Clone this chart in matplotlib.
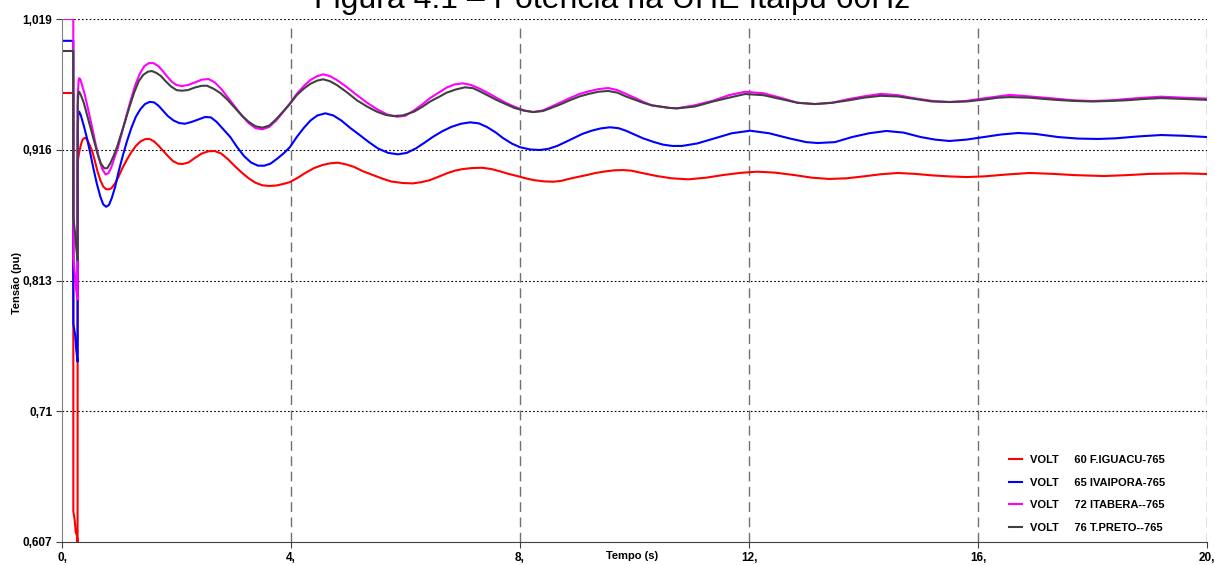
import matplotlib
matplotlib.use('Agg')
import matplotlib.pyplot as plt

plt.rcParams['font.family'] = ['Liberation Sans', 'DejaVu Sans']

# tempo (s) / tensao (pu)
t_iguacu = [0.0, 0.197, 0.198, 0.22, 0.24, 0.26, 0.272, 0.274, 0.30, 0.33, 0.36, 0.40, 0.44, 0.48,
            0.52, 0.57, 0.62, 0.67, 0.72, 0.77, 0.81, 0.86, 0.92, 0.99, 1.06, 1.13, 1.21, 1.29,
            1.37, 1.45, 1.53, 1.61, 1.69, 1.77, 1.85, 1.94, 2.03, 2.11, 2.21, 2.32, 2.44, 2.56,
            2.67, 2.78, 2.90, 3.02, 3.14, 3.26, 3.38, 3.50, 3.62, 3.74, 3.86, 3.98, 4.12, 4.26,
            4.40, 4.55, 4.68, 4.82, 4.96, 5.10, 5.26, 5.43, 5.60, 5.75, 5.95, 6.13, 6.28, 6.42,
            6.58, 6.72, 6.86, 7.00, 7.17, 7.34, 7.50, 7.65, 7.80, 7.95, 8.10, 8.25, 8.42, 8.58,
            8.72, 8.85, 9.00, 9.17, 9.33, 9.50, 9.65, 9.80, 9.95, 10.1, 10.25, 10.39, 10.65,
            10.94, 11.25, 11.55, 11.85, 12.14, 12.45, 12.8, 13.1, 13.4, 13.7, 14.0, 14.3, 14.6,
            14.9, 15.2, 15.5, 15.8, 16.1, 16.5, 16.9, 17.3, 17.7, 18.2, 18.6, 19.0, 19.6, 20.0]
v_iguacu = [0.9607, 0.9607, 0.631, 0.625, 0.615, 0.612, 0.607, 0.9066, 0.914, 0.920, 0.924, 0.9255,
            0.924, 0.920, 0.9158, 0.908, 0.899, 0.892, 0.887, 0.885, 0.8848, 0.8855, 0.889, 0.895,
            0.902, 0.9079, 0.914, 0.919, 0.9225, 0.9243, 0.9245, 0.9225, 0.919, 0.915, 0.911,
            0.907, 0.905, 0.9048, 0.906, 0.9095, 0.913, 0.9148, 0.915, 0.913, 0.9085, 0.903,
            0.898, 0.8935, 0.890, 0.888, 0.8875, 0.8878, 0.889, 0.8905, 0.894, 0.898, 0.9015,
            0.904, 0.9053, 0.9058, 0.9045, 0.9025, 0.899, 0.8961, 0.8932, 0.891, 0.8898, 0.8895,
            0.8905, 0.892, 0.8948, 0.8974, 0.8995, 0.9008, 0.9016, 0.9018, 0.9008, 0.899, 0.897,
            0.8953, 0.8935, 0.892, 0.8911, 0.8908, 0.8915, 0.893, 0.8945, 0.8961, 0.8978,
            0.899, 0.8998, 0.900, 0.8995, 0.898, 0.8966, 0.8953, 0.8935, 0.8927, 0.894, 0.8961,
            0.8978, 0.8987, 0.898, 0.896, 0.894, 0.893, 0.8935, 0.895, 0.8967, 0.8977, 0.897,
            0.8958, 0.895, 0.8945, 0.895, 0.8965, 0.8977, 0.897, 0.896, 0.8953, 0.896, 0.897,
            0.8974, 0.8969]

t_ivaipora = [0.0, 0.197, 0.198, 0.23, 0.25, 0.272, 0.274, 0.285, 0.30, 0.33, 0.38, 0.43, 0.49,
              0.55, 0.61, 0.67, 0.72, 0.77, 0.82, 0.87, 0.93, 0.99, 1.06, 1.13, 1.21, 1.29, 1.37,
              1.45, 1.53, 1.61, 1.69, 1.77, 1.85, 1.95, 2.05, 2.15, 2.27, 2.39, 2.50, 2.60, 2.70,
              2.82, 2.94, 3.06, 3.18, 3.30, 3.42, 3.53, 3.64, 3.76, 3.88, 3.98, 4.10, 4.22, 4.34,
              4.46, 4.60, 4.74, 4.88, 5.04, 5.20, 5.36, 5.52, 5.70, 5.87, 6.02, 6.18, 6.33, 6.48,
              6.64, 6.80, 6.97, 7.13, 7.28, 7.42, 7.57, 7.71, 7.86, 8.00, 8.18, 8.35, 8.50, 8.65,
              8.79, 8.93, 9.09, 9.25, 9.41, 9.57, 9.72, 9.85, 10.0, 10.15, 10.33, 10.50, 10.66,
              10.83, 11.10, 11.40, 11.70, 12.02, 12.35, 12.7, 13.0, 13.2, 13.5, 13.8, 14.1, 14.4,
              14.7, 15.0, 15.25, 15.5, 15.8, 16.1, 16.4, 16.7, 17.0, 17.4, 17.75, 18.1, 18.4,
              18.8, 19.2, 19.6, 20.0]
v_ivaipora = [1.0018, 1.0018, 0.779, 0.770, 0.758, 0.749, 0.930, 0.9452, 0.946, 0.943, 0.935,
              0.9263, 0.914, 0.901, 0.889, 0.879, 0.873, 0.8711, 0.8725, 0.878, 0.887, 0.899,
              0.911, 0.922, 0.933, 0.942, 0.948, 0.952, 0.9537, 0.9533, 0.9505, 0.9465, 0.9425,
              0.939, 0.937, 0.9365, 0.938, 0.940, 0.9418, 0.9415, 0.938, 0.932, 0.926, 0.918,
              0.911, 0.906, 0.9035, 0.9034, 0.905, 0.909, 0.9135, 0.918, 0.926, 0.933, 0.939,
              0.943, 0.9447, 0.943, 0.939, 0.933, 0.9276, 0.922, 0.917, 0.9135, 0.9124, 0.9135,
              0.917, 0.9215, 0.9262, 0.9305, 0.934, 0.9365, 0.9376, 0.9368, 0.934, 0.9298,
              0.925, 0.9208, 0.918, 0.9162, 0.9158, 0.9168, 0.919, 0.922, 0.925, 0.9285, 0.931,
              0.9328, 0.9337, 0.933, 0.931, 0.928, 0.925, 0.9222, 0.920, 0.919, 0.919, 0.921,
              0.925, 0.929, 0.931, 0.929, 0.925, 0.922, 0.9213, 0.922, 0.926, 0.929, 0.9308,
              0.9295, 0.926, 0.924, 0.9229, 0.924, 0.926, 0.928, 0.9292, 0.9285, 0.926, 0.9248,
              0.9245, 0.925, 0.9265, 0.9276, 0.927, 0.926]

t_itabera = [0.0, 0.197, 0.198, 0.22, 0.25, 0.272, 0.274, 0.29, 0.30, 0.32, 0.35, 0.40, 0.46, 0.52,
             0.58, 0.64, 0.70, 0.76, 0.81, 0.86, 0.92, 0.98, 1.05, 1.12, 1.20, 1.28, 1.36, 1.44,
             1.52, 1.60, 1.68, 1.76, 1.84, 1.92, 2.00, 2.09, 2.20, 2.32, 2.44, 2.56, 2.67, 2.78,
             2.90, 3.02, 3.14, 3.26, 3.38, 3.50, 3.62, 3.74, 3.86, 3.98, 4.10, 4.22, 4.34, 4.46,
             4.56, 4.68, 4.80, 4.97, 5.15, 5.33, 5.50, 5.68, 5.85, 6.00, 6.15, 6.30, 6.43, 6.58,
             6.72, 6.86, 7.00, 7.15, 7.30, 7.45, 7.60, 7.75, 7.90, 8.07, 8.23, 8.40, 8.55, 8.72,
             8.87, 9.04, 9.20, 9.37, 9.54, 9.70, 9.85, 10.0, 10.15, 10.30, 10.45, 10.60, 10.74,
             11.05, 11.37, 11.65, 11.93, 12.25, 12.55, 12.85, 13.15, 13.45, 13.75, 14.0, 14.3,
             14.6, 14.9, 15.2, 15.5, 15.8, 16.1, 16.35, 16.56, 16.9, 17.3, 17.65, 18.0, 18.35,
             18.6, 18.9, 19.2, 19.6, 20.0]
v_itabera = [1.019, 1.019, 0.831, 0.820, 0.805, 0.798, 0.958, 0.9705, 0.9723, 0.9715, 0.967,
             0.959, 0.947, 0.935, 0.922, 0.910, 0.901, 0.8966, 0.8975, 0.902, 0.910, 0.918,
             0.930, 0.942, 0.955, 0.967, 0.976, 0.982, 0.9843, 0.9842, 0.982, 0.978, 0.9735,
             0.9695, 0.967, 0.9662, 0.967, 0.969, 0.9712, 0.9717, 0.969, 0.964, 0.957, 0.950,
             0.943, 0.937, 0.933, 0.9321, 0.934, 0.939, 0.9455, 0.9525, 0.960, 0.966, 0.971,
             0.974, 0.9754, 0.974, 0.971, 0.9655, 0.9591, 0.953, 0.948, 0.9438, 0.942, 0.9428,
             0.947, 0.952, 0.9567, 0.961, 0.965, 0.9675, 0.9683, 0.967, 0.964, 0.9605, 0.9567,
             0.953, 0.950, 0.947, 0.9457, 0.947, 0.950, 0.9535, 0.9567, 0.96, 0.962, 0.9638,
             0.9646, 0.963, 0.960, 0.957, 0.9538, 0.951, 0.950, 0.949, 0.9486, 0.951, 0.9546,
             0.959, 0.9617, 0.9605, 0.957, 0.953, 0.952, 0.953, 0.956, 0.958, 0.960, 0.959,
             0.9565, 0.9545, 0.9536, 0.9545, 0.9565, 0.958, 0.9592, 0.958, 0.9565, 0.955,
             0.9544, 0.955, 0.956, 0.957, 0.9578, 0.957, 0.9563]

t_tpreto = [0.0, 0.197, 0.198, 0.23, 0.25, 0.272, 0.274, 0.285, 0.30, 0.33, 0.38, 0.44, 0.50, 0.56,
            0.62, 0.68, 0.74, 0.79, 0.84, 0.90, 0.96, 1.03, 1.10, 1.18, 1.26, 1.34, 1.42, 1.50,
            1.57, 1.65, 1.73, 1.81, 1.90, 2.00, 2.09, 2.20, 2.32, 2.43, 2.53, 2.65, 2.77, 2.90,
            3.02, 3.14, 3.26, 3.38, 3.50, 3.62, 3.74, 3.86, 3.98, 4.10, 4.22, 4.34, 4.46, 4.56,
            4.68, 4.80, 4.97, 5.15, 5.33, 5.50, 5.65, 5.78, 5.95, 6.15, 6.30, 6.43, 6.58, 6.72,
            6.88, 7.04, 7.18, 7.30, 7.45, 7.60, 7.75, 7.90, 8.07, 8.23, 8.40, 8.55, 8.72, 8.87,
            9.04, 9.20, 9.37, 9.54, 9.70, 9.85, 10.0, 10.15, 10.30, 10.45, 10.60, 10.74, 11.05,
            11.37, 11.65, 11.93, 12.25, 12.55, 12.85, 13.15, 13.45, 13.75, 14.0, 14.3, 14.6,
            14.9, 15.2, 15.5, 15.8, 16.1, 16.35, 16.56, 16.9, 17.3, 17.65, 18.0, 18.35, 18.6,
            18.9, 19.2, 19.6, 20.0]
v_tpreto = [0.9938, 0.9938, 0.862, 0.850, 0.838, 0.829, 0.950, 0.9605, 0.9617, 0.959, 0.953, 0.943,
            0.933, 0.923, 0.913, 0.905, 0.9014, 0.9015, 0.905, 0.911, 0.918, 0.928, 0.938, 0.950,
            0.961, 0.970, 0.975, 0.9775, 0.978, 0.9765, 0.974, 0.970, 0.966, 0.963, 0.9625,
            0.963, 0.965, 0.9663, 0.9665, 0.964, 0.9605, 0.955, 0.949, 0.943, 0.938, 0.9345,
            0.9334, 0.935, 0.940, 0.946, 0.952, 0.959, 0.964, 0.968, 0.9705, 0.9715, 0.970,
            0.967, 0.9615, 0.955, 0.950, 0.946, 0.9435, 0.9426, 0.943, 0.946, 0.950, 0.954,
            0.9575, 0.961, 0.9635, 0.9652, 0.9645, 0.962, 0.9585, 0.955, 0.952, 0.949, 0.9468,
            0.9457, 0.9465, 0.949, 0.952, 0.955, 0.958, 0.960, 0.9617, 0.9623, 0.961, 0.958,
            0.9555, 0.953, 0.951, 0.950, 0.949, 0.9486, 0.950, 0.954, 0.957, 0.9599, 0.959,
            0.956, 0.953, 0.952, 0.953, 0.955, 0.957, 0.9585, 0.958, 0.956, 0.954, 0.9536,
            0.954, 0.9555, 0.957, 0.9575, 0.957, 0.9555, 0.9545, 0.954, 0.9545, 0.955, 0.956,
            0.9567, 0.956, 0.9553]

y_ticks = [0.607, 0.71, 0.813, 0.916, 1.019]
y_labels = ['0,607', '0,71', '0,813', '0,916', '1,019']
x_ticks = [0, 4, 8, 12, 16, 20]
x_labels = ['0,', '4,', '8,', '12,', '16,', '20,']

series = [
    (t_iguacu, v_iguacu, '#ff0000', 'VOLT     60 F.IGUACU-765'),
    (t_ivaipora, v_ivaipora, '#0000ff', 'VOLT     65 IVAIPORA-765'),
    (t_itabera, v_itabera, '#ff00ff', 'VOLT     72 ITABERA--765'),
    (t_tpreto, v_tpreto, '#404040', 'VOLT     76 T.PRETO--765'),
]

fig = plt.figure(figsize=(12.15, 5.65), dpi=100)
ax = fig.add_axes([62 / 1215, 1 - 542 / 565, 1145 / 1215, 523 / 565])

for t, v, c, name in series:
    ax.plot(t, v, color=c, lw=1.5, label=name)

ax.set_xlim(0, 20)
ax.set_ylim(0.607, 1.019)

# grades: pontilhada na horizontal, tracejada na vertical
for yv in y_ticks[1:]:
    ax.axhline(yv, color='black', lw=0.8, ls=(0, (1.5, 2)), zorder=0)
for xv in x_ticks[1:]:
    ax.axvline(xv, ymax=0.992, color='#707070', lw=1.0, ls=(0, (7, 4)), zorder=0)

ax.set_yticks(y_ticks)
ax.set_yticklabels(y_labels, fontsize=8.5, fontweight='bold')
ax.set_xticks(x_ticks)
ax.set_xticklabels(x_labels, fontsize=8.5, fontweight='bold')
ax.tick_params(axis='both', length=4, width=0.8, color='#404040', pad=3)

ax.spines['top'].set_visible(False)
ax.spines['right'].set_visible(False)
ax.spines['left'].set_color('#808080')
ax.spines['bottom'].set_color('#404040')

fig.text(632 / 1215, 1 - 556 / 565, 'Tempo (s)', ha='center', va='center',
         fontsize=8, fontweight='bold')
fig.text(17 / 1215, 1 - 283 / 565, 'Tensão (pu)', ha='center', va='center',
         rotation=90, fontsize=8, fontweight='bold')

fig.text(612 / 1215, 1 - 8 / 565, 'Figura 4.1 – Potência na UHE Itaipu 60Hz',
         ha='center', va='baseline', fontsize=23)

leg = ax.legend(loc='upper left', bbox_to_anchor=(0.827, 0.166), frameon=False,
                prop={'size': 8, 'weight': 'bold'}, handlelength=1.2,
                handletextpad=0.7, labelspacing=1.12, borderpad=0, borderaxespad=0)

fig.savefig('out.png', dpi=100)
